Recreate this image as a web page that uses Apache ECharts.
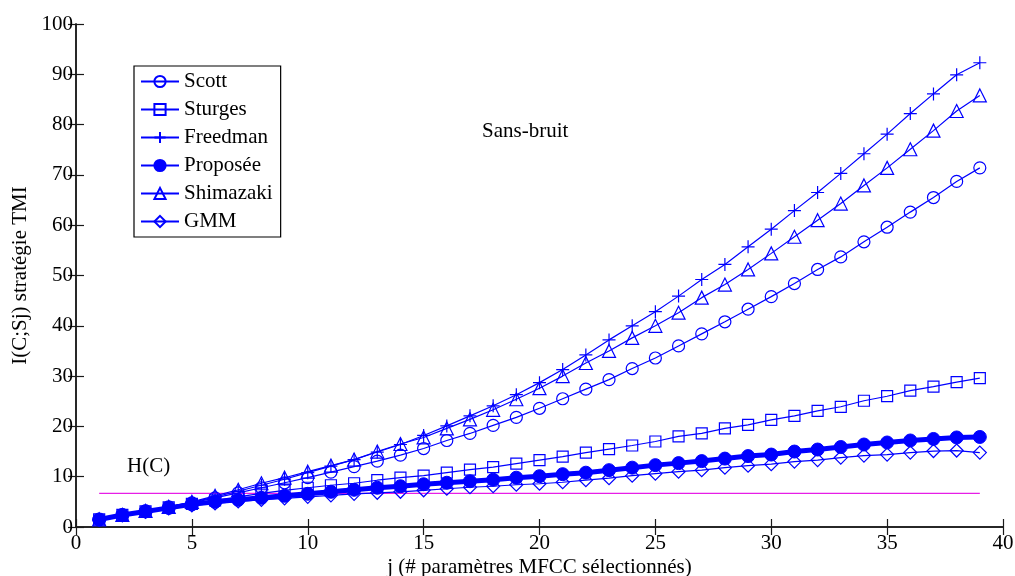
<!DOCTYPE html>
<html>
<head>
<meta charset="utf-8">
<script src="https://cdn.jsdelivr.net/npm/echarts@6/dist/echarts.min.js"></script>
<style>
html,body{margin:0;padding:0;background:#fff;}
#c{width:1015px;height:576px;}
</style>
</head>
<body>
<div id="c"></div>
<script>
// ---- data ----
const j = [1,2,3,4,5,6,7,8,9,10,11,12,13,14,15,16,17,18,19,20,21,22,23,24,25,26,27,28,29,30,31,32,33,34,35,36,37,38,39];
const scott = [1.5,2.4,3.2,4.0,4.8,5.8,6.8,7.8,8.8,9.8,10.9,12.0,13.1,14.3,15.6,17.2,18.6,20.2,21.8,23.6,25.5,27.4,29.3,31.5,33.6,36.0,38.4,40.8,43.3,45.8,48.4,51.2,53.7,56.7,59.6,62.6,65.5,68.7,71.4];
const sturges = [1.5,2.4,3.1,3.9,4.6,5.3,6.0,6.7,7.3,7.8,8.3,8.7,9.3,9.8,10.2,10.8,11.4,11.9,12.6,13.3,14.0,14.8,15.5,16.2,17.0,18.0,18.6,19.6,20.3,21.3,22.1,23.1,23.9,25.1,26.0,27.1,27.9,28.8,29.6];
const freedman = [1.5,2.4,3.2,4.0,4.9,6.0,7.1,8.3,9.5,10.8,12.1,13.4,14.9,16.4,18.2,20.1,22.1,24.1,26.3,28.7,31.3,34.2,37.2,40.0,42.8,45.9,49.2,52.2,55.7,59.2,62.9,66.5,70.3,74.2,78.1,82.2,86.1,89.9,92.3];
const proposee = [1.5,2.4,3.1,3.8,4.5,5.0,5.4,5.8,6.2,6.6,7.0,7.4,7.8,8.1,8.5,8.8,9.1,9.4,9.8,10.1,10.5,10.8,11.3,11.8,12.3,12.7,13.1,13.6,14.1,14.4,15.0,15.4,15.9,16.4,16.8,17.2,17.5,17.8,17.9];
const shimazaki = [1.5,2.4,3.2,4.0,5.0,6.2,7.4,8.7,9.8,11.0,12.2,13.4,15.0,16.5,17.8,19.6,21.4,23.3,25.4,27.6,30.0,32.6,35.0,37.6,40.0,42.6,45.6,48.2,51.2,54.4,57.7,61.0,64.3,67.9,71.4,75.1,78.8,82.7,85.8];
const gmm = [1.4,2.3,3.0,3.7,4.3,4.7,5.1,5.4,5.7,6.0,6.3,6.6,6.8,7.0,7.3,7.6,7.9,8.1,8.4,8.6,8.9,9.3,9.7,10.2,10.6,11.0,11.3,11.8,12.2,12.5,13.0,13.3,13.8,14.2,14.4,14.8,15.1,15.2,14.8];
const hcValue = 6.7;
const hcRange = [1, 39];
const xTicks = {min: 0, max: 40, interval: 5};
const yTicks = {min: 0, max: 100, interval: 10};

const FONT = "'Liberation Serif', 'DejaVu Serif', serif";
const BLUE = '#0000ff';
const MAGENTA = '#e61ee6';
const zip = arr => j.map((x, i) => [x, arr[i]]);

function thinSeries(name, data, symbol, size) {
  return {
    name, type: 'line', data: zip(data), symbol, symbolSize: size,
    showSymbol: true,
    lineStyle: {color: BLUE, width: 1.2},
    itemStyle: {color: 'rgba(0,0,0,0)', borderColor: BLUE, borderWidth: 1.2},
    emphasis: {disabled: true}, animation: false, z: 3
  };
}
const PLUS = 'path://M10,0 L10,20 M0,10 L20,10';

const chart = echarts.init(document.getElementById('c'), null, {renderer: 'canvas'});
const axisLine = {show: true, lineStyle: {color: '#1a1a1a', width: 1.5}};
const tick = {show: true, inside: true, length: 8, lineStyle: {color: '#1a1a1a', width: 1.2}};
const label = {color: '#000', fontFamily: FONT, fontSize: 21};

chart.setOption({
  animation: false,
  backgroundColor: '#fff',
  grid: {left: 76, right: 12, top: 24, bottom: 49, containLabel: false, outerBoundsMode: 'none'},
  xAxis: [
    {type: 'value', min: xTicks.min, max: xTicks.max, interval: xTicks.interval,
     axisLine, axisTick: tick, splitLine: {show: false},
     axisLabel: Object.assign({margin: 6}, label),
     name: 'j (# paramètres MFCC sélectionnés)', nameLocation: 'middle', nameGap: 30,
     nameMoveOverlap: false,
     nameTextStyle: {color: '#000', fontFamily: FONT, fontSize: 21}},
    {type: 'value', position: 'top', min: xTicks.min, max: xTicks.max, interval: xTicks.interval,
     axisLine, axisTick: tick, splitLine: {show: false}, axisLabel: {show: false}}
  ],
  yAxis: [
    {type: 'value', min: yTicks.min, max: yTicks.max, interval: yTicks.interval,
     axisLine, axisTick: tick, splitLine: {show: false},
     axisLabel: Object.assign({margin: 3}, label),
     name: 'I(C;Sj) stratégie TMI', nameLocation: 'middle', nameGap: 45,
     nameMoveOverlap: false,
     nameTextStyle: {color: '#000', fontFamily: FONT, fontSize: 21}},
    {type: 'value', position: 'right', min: yTicks.min, max: yTicks.max, interval: yTicks.interval,
     axisLine, axisTick: tick, splitLine: {show: false}, axisLabel: {show: false}}
  ],
  legend: {
    orient: 'vertical', left: 134, top: 66,
    padding: [5, 8, 5, 6], itemGap: 7, itemWidth: 38, itemHeight: 14,
    borderColor: '#000', borderWidth: 1.2, backgroundColor: '#fff',
    textStyle: {color: '#000', fontFamily: FONT, fontSize: 21, lineHeight: 20},
    data: ['Scott','Sturges','Freedman','Proposée','Shimazaki','GMM'],
    selectedMode: false
  },
  series: [
    {
      name: 'H(C)', type: 'line', data: hcRange.map(x => [x, hcValue]),
      symbol: 'none', silent: true,
      lineStyle: {color: MAGENTA, width: 1.3},
      itemStyle: {color: MAGENTA},
      emphasis: {disabled: true}, z: 1
    },
    thinSeries('Scott', scott, 'circle', 12),
    thinSeries('Sturges', sturges, 'rect', 11),
    thinSeries('Freedman', freedman, PLUS, 13),
    {
      name: 'Proposée', type: 'line', data: zip(proposee), symbol: 'circle', symbolSize: 13,
      lineStyle: {color: BLUE, width: 5},
      itemStyle: {color: BLUE, borderColor: BLUE, borderWidth: 1},
      emphasis: {disabled: true}, z: 3
    },
    thinSeries('Shimazaki', shimazaki, 'triangle', 13),
    thinSeries('GMM', gmm, 'diamond', 13)
  ],
  graphic: [
    {type: 'text', left: 127, top: 456, style: {text: 'H(C)', fill: '#000', font: '21px ' + FONT}},
    {type: 'text', left: 482, top: 121, style: {text: 'Sans-bruit', fill: '#000', font: '21px ' + FONT}}
  ]
});
</script>
</body>
</html>
